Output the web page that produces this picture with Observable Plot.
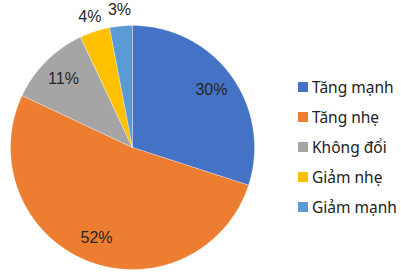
<!DOCTYPE html>
<html><head><meta charset="utf-8">
<script src="https://cdn.jsdelivr.net/npm/d3@7"></script>
<script src="https://cdn.jsdelivr.net/npm/@observablehq/plot@0.6"></script>
<style>
body{margin:0;background:#fff;width:401px;height:274px;overflow:hidden;position:relative;font-family:"Liberation Sans",Arial,sans-serif;}
#chart{position:absolute;left:0;top:0;}
#legend{position:absolute;left:298px;top:72px;}
#legend div{font-family:"Noto Sans",sans-serif !important;font-size:15.5px !important;color:#222 !important;margin:0 !important;}
#legend [class$="-swatch"]{height:30px !important;padding:0 !important;display:flex !important;align-items:center !important;}
#legend [class$="-swatch"] svg{margin-right:4px !important;}
</style></head>
<body><div id="chart"></div><div id="legend"></div>
<script>
const categories = ["Tăng mạnh","Tăng nhẹ","Không đổi","Giảm nhẹ","Giảm mạnh"];
const values = [30, 52, 11, 4, 3];
const labels = ["30%","52%","11%","4%","3%"];
const colors = ["#4472C4","#ED7D31","#A5A5A5","#FFC000","#5B9BD5"];

const total = d3.sum(values);
const arcs = [];
const labelPts = [];
let acc = 0;
values.forEach((v, i) => {
  const a0 = acc / total * 2 * Math.PI;
  const a1 = (acc + v) / total * 2 * Math.PI;
  const n = Math.max(4, Math.ceil((a1 - a0) / (Math.PI / 180)));
  arcs.push({x: 0, y: 0, c: categories[i]});
  for (let k = 0; k <= n; k++) {
    const a = a0 + (a1 - a0) * k / n;
    arcs.push({x: Math.sin(a), y: Math.cos(a), c: categories[i]});
  }
  arcs.push({x: 0, y: 0, c: categories[i]});
  const am = (a0 + a1) / 2;
  const r = v / total < 0.05 ? 1.13 : 0.8;
  labelPts.push({x: r * Math.sin(am), y: r * Math.cos(am), t: labels[i]});
  acc += v;
});

const plot = Plot.plot({
  width: 280, height: 274,
  margin: 0,
  x: {domain: [-1, 1], range: [10, 254], axis: null},
  y: {domain: [-1, 1], range: [269, 25], axis: null},
  color: {domain: categories, range: colors},
  style: {background: "transparent", overflow: "visible"},
  marks: [
    Plot.line(arcs, {x: "x", y: "y", z: "c", fill: "c", stroke: "#ffffff", strokeWidth: 0.5, strokeOpacity: 0.6, curve: "linear"}),
    Plot.text(labelPts, {x: "x", y: "y", text: "t", fontSize: 16, fill: "#262626", fontFamily: "Liberation Sans, Arial, sans-serif"})
  ]
});
document.getElementById("chart").appendChild(plot);

const legend = Plot.legend({
  color: {domain: categories, range: colors},
  legend: "swatches",
  columns: 1,
  swatchSize: 10
});
document.getElementById("legend").appendChild(legend);
</script>
</body></html>
